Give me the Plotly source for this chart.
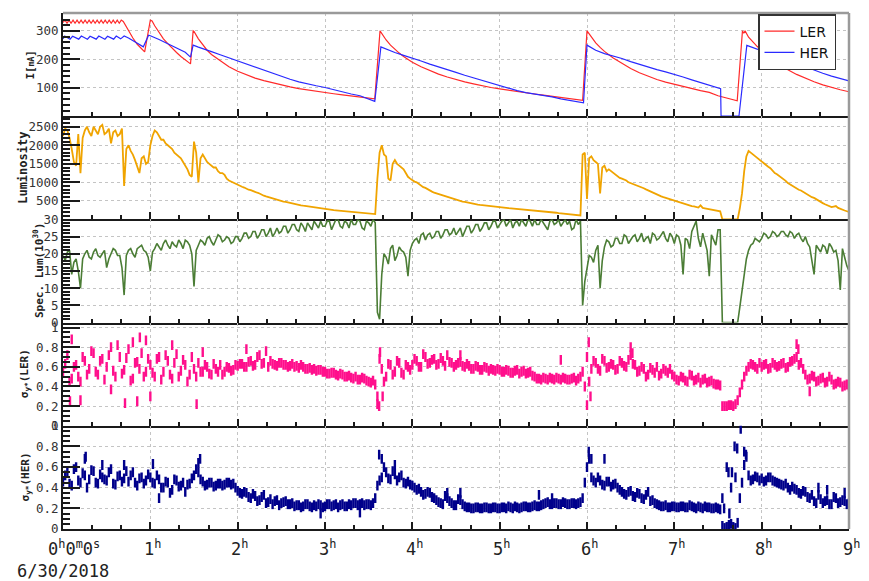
import plotly.graph_objects as go
from plotly.subplots import make_subplots

# ---------------------------------------------------------------- data
# time axis in hours since 00:00 on 6/30/2018; monitors sampled every 1.5 min
# (t_grid and t_half interleave)
t_grid = [round(0.05 * k, 3) for k in range(181)]
t_half = [round(0.05 * k + 0.025, 3) for k in range(180)]

# beam currents [mA]
ler_t = [0.000, 0.023, 0.046, 0.069, 0.092, 0.115, 0.138, 0.161, 0.184, 0.207,
         0.230, 0.253, 0.276, 0.299, 0.322, 0.345, 0.368, 0.391, 0.414, 0.437,
         0.460, 0.483, 0.506, 0.529, 0.552, 0.575, 0.598, 0.621, 0.644, 0.667,
         0.690, 0.75, 0.80, 0.85, 0.90, 0.935, 1.00, 1.02, 1.05, 1.10, 1.15,
         1.20, 1.25, 1.30, 1.35, 1.40, 1.46, 1.49, 1.50, 1.55, 1.60, 1.65, 1.70,
         1.80, 1.90, 2.00, 2.10, 2.20, 2.30, 2.40, 2.50, 2.60, 2.70, 2.80, 2.90,
         3.00, 3.10, 3.20, 3.30, 3.40, 3.50, 3.57, 3.63, 3.66, 3.70, 3.75, 3.80,
         3.85, 3.90, 4.00, 4.10, 4.20, 4.30, 4.40, 4.50, 4.60, 4.70, 4.80, 4.90,
         5.00, 5.10, 5.20, 5.30, 5.40, 5.50, 5.60, 5.70, 5.80, 5.90, 5.95, 6.00,
         6.03, 6.07, 6.10, 6.15, 6.20, 6.30, 6.40, 6.50, 6.60, 6.70, 6.80, 6.90,
         7.00, 7.10, 7.20, 7.30, 7.40, 7.50, 7.72, 7.78, 7.795, 7.81, 7.85, 7.90,
         7.95, 8.00, 8.10, 8.20, 8.30, 8.40, 8.50, 8.60, 8.70, 8.80, 8.90, 9.00]
ler_i = [330, 338, 327, 338, 327, 338, 327, 338, 327, 338,
         327, 338, 327, 338, 327, 338, 327, 338, 327, 338,
         327, 338, 327, 338, 327, 338, 327, 338, 327, 338,
         333, 300, 275, 253, 235, 226, 338, 335, 318, 295, 272,
         255, 238, 224, 210, 197, 184, 300, 298, 272, 250, 232, 217,
         194, 174, 158, 145, 134, 125, 117, 110, 103, 97, 92, 87,
         83, 79, 75, 71, 68, 64, 61, 300, 285, 268, 250, 235,
         222, 210, 190, 174, 160, 148, 138, 129, 121, 114, 107, 101,
         96, 91, 86, 82, 78, 74, 70, 66, 62, 58, 56, 300,
         287, 270, 258, 242, 228, 205, 185, 168, 153, 140, 129, 120,
         112, 104, 97, 90, 84, 72, 54, 300, 292, 300, 278, 260,
         245, 232, 208, 185, 163, 147, 133, 121, 110, 101, 93, 86]

her_t = [0.00, 0.02, 0.08, 0.11, 0.18, 0.21, 0.28, 0.31, 0.38, 0.41, 0.48, 0.51,
         0.58, 0.61, 0.66, 0.70, 0.75, 0.80, 0.85, 0.90, 0.92, 0.98, 1.00, 1.10,
         1.20, 1.30, 1.40, 1.46, 1.49, 1.55, 1.60, 1.70, 1.80, 1.90, 2.00, 2.10,
         2.20, 2.30, 2.40, 2.50, 2.60, 2.70, 2.80, 2.90, 3.00, 3.10, 3.20, 3.30,
         3.40, 3.50, 3.57, 3.64, 3.70, 3.80, 3.90, 4.00, 4.10, 4.20, 4.30, 4.40,
         4.50, 4.60, 4.70, 4.80, 4.90, 5.00, 5.10, 5.20, 5.30, 5.40, 5.50, 5.60,
         5.70, 5.80, 5.90, 5.96, 6.00, 6.05, 6.10, 6.20, 6.30, 6.40, 6.50, 6.60,
         6.70, 6.80, 6.90, 7.00, 7.10, 7.20, 7.30, 7.40, 7.53, 7.535, 7.74, 7.83,
         7.90, 7.95, 8.00, 8.10, 8.20, 8.30, 8.40, 8.50, 8.60, 8.70, 8.80, 8.90,
         9.00]
her_i = [272, 282, 271, 281, 271, 282, 271, 281, 271, 282, 271, 281,
         271, 282, 272, 282, 275, 266, 257, 248, 244, 285, 283, 270,
         255, 240, 225, 208, 250, 243, 237, 227, 216, 205, 195, 185,
         174, 162, 150, 139, 130, 121, 113, 107, 101, 93, 85, 78,
         72, 60, 52, 244, 236, 224, 214, 205, 194, 183, 174, 164,
         154, 144, 135, 125, 115, 106, 98, 90, 83, 78, 74, 68,
         61, 55, 50, 47, 250, 241, 232, 220, 212, 203, 192, 182,
         173, 164, 156, 148, 138, 128, 118, 108, 97, 0, 0, 249,
         241, 234, 228, 218, 207, 196, 185, 174, 162, 151, 141, 132,
         124]

# luminosity: samples on t_grid and on t_half
lum = [2250, 2400, 1900, 1450, 1250, 2400, 2350, 2500, 2300, 2550,
       2350, 2050, 2400, 2300, 900, 2000, 1750, 1400, 1650, 1500,
       2000, 2400, 2250, 2150, 2000, 1900, 1750, 1650, 1450, 1200,
       2100, 1000, 1750, 1550, 1450, 1400, 1250, 1200, 1050, 980,
       930, 880, 820, 790, 740, 700, 640, 600, 560, 530,
       500, 470, 440, 420, 390, 370, 350, 330, 310, 290,
       280, 265, 250, 240, 225, 215, 205, 195, 185, 175,
       160, 150, 1100, 2000, 1700, 1050, 1600, 1450, 1350, 1150,
       1050, 1000, 900, 850, 780, 720, 680, 640, 600, 560,
       520, 490, 470, 440, 420, 400, 385, 370, 355, 345,
       335, 320, 305, 295, 280, 270, 255, 245, 235, 225,
       210, 200, 190, 180, 165, 150, 140, 125, 110, 1750,
       550, 1700, 1550, 700, 1450, 1350, 1250, 1150, 1100, 1050,
       980, 920, 880, 840, 780, 720, 680, 620, 580, 540,
       510, 470, 430, 400, 360, 340, 380, 300, 280, 250,
       230, 0, 0, 0, 0, 300, 1300, 1850, 1750, 1650,
       1550, 1450, 1380, 1250, 1180, 1100, 980, 900, 820, 780,
       700, 620, 580, 500, 440, 380, 330, 360, 280, 240,
       200]
lum_half = [2450, 2200, 1550, 2300, 2200, 2500, 2250, 2400, 2500, 2300,
            2450, 2350, 2250, 2450, 1900, 1850, 1600, 1250, 1700, 1550,
            2250, 2350, 2150, 2050, 1950, 1800, 1700, 1550, 1350, 1150,
            1800, 1650, 1650, 1500, 1400, 1300, 1250, 1100, 1020, 950,
            900, 860, 800, 760, 720, 660, 620, 580, 540, 515,
            480, 455, 430, 400, 380, 360, 340, 320, 300, 285,
            270, 255, 245, 230, 220, 210, 200, 190, 180, 165,
            155, 145, 1800, 1750, 1100, 1500, 1500, 1400, 1250, 1100,
            1020, 950, 870, 810, 750, 700, 660, 620, 580, 540,
            505, 480, 455, 430, 410, 390, 378, 362, 350, 340,
            328, 312, 300, 288, 275, 262, 250, 240, 230, 218,
            205, 195, 185, 172, 158, 145, 132, 118, 105, 1800,
            1650, 1600, 1500, 1400, 1300, 1300, 1200, 1120, 1080, 1000,
            950, 900, 860, 810, 750, 700, 650, 600, 560, 525,
            490, 450, 415, 380, 350, 320, 310, 290, 265, 240,
            220, 0, 0, 0, 0, 700, 1700, 1800, 1700, 1600,
            1500, 1420, 1300, 1220, 1140, 1040, 940, 860, 800, 740,
            660, 600, 540, 470, 410, 350, 345, 310, 260, 220]

# specific luminosity [1e30]
spec_lum = [19.5, 20.5, 14.0, 18.5, 10.0, 20.0, 19.0, 20.5, 19.5, 20.0,
            16.0, 20.0, 21.0, 19.5, 8.0, 21.0, 20.0, 21.5, 22.5, 20.5,
            15.0, 21.5, 22.0, 23.0, 22.5, 23.5, 22.0, 23.0, 24.0, 22.5,
            10.5, 22.5, 23.5, 24.5, 23.5, 24.0, 25.0, 24.0, 24.5, 23.5,
            25.0, 24.5, 26.0, 25.0, 26.5, 25.5, 27.0, 26.0, 25.0, 27.5,
            26.5, 28.0, 27.0, 28.5, 26.5, 28.0, 29.0, 27.0, 28.5, 29.5,
            28.0, 29.5, 28.5, 30.0, 27.5, 29.0, 30.0, 28.5, 29.5, 27.0,
            29.0, 30.0, 3.0, 14.0, 19.0, 21.5, 18.0, 22.0, 20.5, 13.5,
            23.0, 24.5, 25.5, 24.0, 26.0, 25.0, 26.5, 25.5, 27.0, 26.0,
            25.5, 27.5, 26.5, 28.0, 27.0, 28.5, 27.5, 29.0, 28.0, 29.5,
            28.5, 30.0, 29.0, 27.5, 29.5, 30.0, 28.0, 29.5, 30.0, 28.5,
            29.0, 27.0, 30.0, 29.0, 28.0, 30.0, 29.5, 27.5, 28.5, 5.0,
            16.0, 19.0, 21.0, 10.0, 22.0, 23.5, 22.5, 24.5, 23.0, 25.0,
            24.0, 25.5, 24.5, 23.5, 25.0, 26.0, 24.0, 25.5, 24.5, 26.0,
            23.0, 25.0, 14.0, 24.0, 26.5, 29.5, 22.0, 23.5, 13.5, 24.0,
            27.0, 0.0, 0.0, 0.0, 0.0, 4.5, 15.0, 21.0, 23.0, 24.0,
            24.5, 25.5, 25.0, 26.0, 25.5, 26.5, 25.0, 26.0, 25.5, 24.5,
            25.0, 22.0, 14.0, 21.5, 22.5, 20.0, 22.0, 21.0, 9.5, 19.0,
            15.0]
spec_half = [18.0, 21.0, 17.5, 15.0, 18.5, 21.0, 18.5, 21.5, 19.0, 21.0,
             18.5, 21.5, 19.5, 16.0, 19.5, 21.5, 19.0, 22.0, 21.0, 19.0,
             20.5, 23.0, 21.0, 24.0, 21.5, 22.5, 24.0, 21.5, 23.5, 20.0,
             21.0, 24.0, 22.5, 25.0, 22.5, 25.5, 23.5, 25.0, 23.0, 25.0,
             23.5, 26.0, 24.5, 26.5, 24.5, 27.0, 25.0, 27.5, 26.0, 26.0,
             28.0, 26.0, 28.5, 27.0, 29.0, 26.5, 28.0, 29.5, 27.5, 28.0,
             29.5, 27.0, 30.0, 28.0, 29.5, 27.5, 28.5, 30.0, 27.5, 29.5,
             28.0, 29.0, 1.0, 20.0, 17.0, 22.5, 19.5, 21.0, 19.0, 21.0,
             24.0, 23.0, 26.0, 25.5, 24.5, 26.5, 24.5, 27.0, 25.5, 27.5,
             26.5, 25.0, 28.0, 26.0, 28.5, 26.5, 29.0, 27.0, 29.5, 27.5,
             29.5, 28.0, 30.0, 29.0, 28.0, 29.0, 30.0, 28.0, 28.5, 30.0,
             28.0, 29.5, 28.5, 30.0, 29.0, 28.5, 27.0, 30.0, 29.5, 12.0,
             19.5, 17.5, 22.5, 18.0, 24.0, 22.0, 24.5, 23.0, 25.5, 23.0,
             25.0, 23.5, 26.0, 24.5, 23.0, 25.5, 24.5, 26.5, 23.5, 25.0,
             25.5, 22.5, 24.5, 21.5, 28.0, 24.5, 26.0, 21.0, 25.5, 22.5,
             27.0, 0.0, 0.0, 0.0, 0.0, 9.0, 18.5, 22.5, 24.5, 23.5,
             26.0, 24.5, 26.5, 25.0, 26.5, 25.5, 26.5, 24.5, 26.0, 23.5,
             23.0, 18.0, 22.5, 20.5, 22.0, 23.0, 20.5, 18.0, 21.5, 16.5]

# vertical beam size at IP, LER: samples on t_grid (a) and t_half (b)
sig_ler_a = [0.55, 0.72, 0.48, 0.62, 0.45, 0.66, 0.58, 0.74, 0.52, 0.68,
             0.60, 0.80, 0.50, 0.70, 0.57, 0.78, 0.48, 0.65, 0.74, 0.55,
             0.62, 0.50, 0.70, 0.55, 0.66, 0.48, 0.73, 0.56, 0.62, 0.52,
             0.58, 0.64, 0.55, 0.60, 0.52, 0.58, 0.62, 0.55, 0.59, 0.57,
             0.61, 0.63, 0.60, 0.66, 0.62, 0.72, 0.64, 0.60, 0.63, 0.61,
             0.64, 0.62, 0.61, 0.60, 0.59, 0.60, 0.58, 0.57, 0.56, 0.57,
             0.55, 0.53, 0.54, 0.51, 0.52, 0.50, 0.49, 0.50, 0.47, 0.48,
             0.45, 0.46, 0.30, 0.58, 0.50, 0.62, 0.55, 0.64, 0.52, 0.60,
             0.62, 0.66, 0.60, 0.70, 0.64, 0.68, 0.63, 0.66, 0.72, 0.64,
             0.62, 0.65, 0.60, 0.61, 0.58, 0.60, 0.57, 0.59, 0.58, 0.56,
             0.57, 0.55, 0.56, 0.54, 0.57, 0.55, 0.53, 0.55, 0.50, 0.48,
             0.49, 0.47, 0.48, 0.49, 0.47, 0.48, 0.47, 0.49, 0.48, 0.55,
             0.70, 0.58, 0.64, 0.56, 0.66, 0.60, 0.62, 0.58, 0.64, 0.60,
             0.72, 0.62, 0.56, 0.58, 0.52, 0.57, 0.60, 0.53, 0.56, 0.58,
             0.50, 0.46, 0.49, 0.45, 0.51, 0.47, 0.44, 0.48, 0.45, 0.43,
             0.42, 0.20, 0.20, 0.21, 0.22, 0.34, 0.50, 0.60, 0.62, 0.58,
             0.60, 0.63, 0.59, 0.62, 0.61, 0.64, 0.60, 0.66, 0.70, 0.64,
             0.52, 0.48, 0.50, 0.46, 0.49, 0.45, 0.47, 0.43, 0.44, 0.41,
             0.40]
sig_ler_b = [0.63, 0.45, 0.60, 0.50, 0.70, 0.52, 0.76, 0.55, 0.66, 0.47,
             0.72, 0.56, 0.82, 0.53, 0.69, 0.46, 0.64, 0.58, 0.50, 0.68,
             0.54, 0.68, 0.47, 0.72, 0.52, 0.64, 0.50, 0.67, 0.45, 0.70,
             0.50, 0.55, 0.62, 0.53, 0.63, 0.55, 0.52, 0.60, 0.56, 0.62,
             0.63, 0.60, 0.65, 0.61, 0.70, 0.63, 0.76, 0.66, 0.62, 0.64,
             0.62, 0.60, 0.63, 0.61, 0.62, 0.58, 0.59, 0.58, 0.57, 0.55,
             0.53, 0.54, 0.52, 0.53, 0.50, 0.51, 0.48, 0.47, 0.49, 0.46,
             0.44, 0.42, 0.68, 0.45, 0.63, 0.52, 0.66, 0.54, 0.62, 0.57,
             0.68, 0.60, 0.73, 0.63, 0.67, 0.62, 0.69, 0.61, 0.65, 0.60,
             0.64, 0.61, 0.63, 0.58, 0.61, 0.57, 0.60, 0.56, 0.57, 0.58,
             0.55, 0.57, 0.54, 0.56, 0.53, 0.56, 0.54, 0.51, 0.48, 0.47,
             0.48, 0.49, 0.47, 0.48, 0.49, 0.47, 0.48, 0.46, 0.50, 0.40,
             0.45, 0.66, 0.58, 0.68, 0.59, 0.63, 0.57, 0.66, 0.61, 0.67,
             0.63, 0.55, 0.60, 0.50, 0.59, 0.54, 0.51, 0.58, 0.54, 0.52,
             0.47, 0.50, 0.46, 0.52, 0.46, 0.49, 0.47, 0.44, 0.46, 0.42,
             0.41, 0.20, 0.21, 0.20, 0.26, 0.42, 0.56, 0.63, 0.60, 0.64,
             0.62, 0.58, 0.64, 0.60, 0.63, 0.59, 0.65, 0.68, 0.62, 0.58,
             0.47, 0.51, 0.45, 0.48, 0.44, 0.50, 0.42, 0.45, 0.40, 0.42]
ler_out_t = [0.08, 0.10, 0.20, 0.55, 0.71, 0.80, 0.85, 0.88, 0.95, 1.00, 1.25,
             1.53, 1.60, 2.10, 3.60, 3.62, 3.63, 3.66, 4.55, 5.70, 6.00, 6.02,
             6.04, 6.50, 6.52, 8.40, 8.42, 8.55]
ler_out_v = [0.25, 0.88, 0.26, 0.37, 0.23, 0.85, 0.25, 0.90, 0.87, 0.30, 0.82,
             0.22, 0.75, 0.78, 0.22, 0.20, 0.75, 0.30, 0.72, 0.67, 0.21, 0.85,
             0.30, 0.80, 0.74, 0.83, 0.78, 0.35]

# vertical beam size at IP, HER
sig_her_a = [0.46, 0.55, 0.42, 0.60, 0.45, 0.52, 0.48, 0.56, 0.44, 0.50,
             0.47, 0.58, 0.43, 0.52, 0.49, 0.46, 0.55, 0.42, 0.50, 0.47,
             0.50, 0.44, 0.48, 0.40, 0.45, 0.38, 0.47, 0.42, 0.36, 0.44,
             0.52, 0.55, 0.46, 0.43, 0.45, 0.42, 0.44, 0.43, 0.45, 0.44,
             0.37, 0.34, 0.35, 0.30, 0.32, 0.28, 0.33, 0.26, 0.24, 0.28,
             0.25, 0.27, 0.24, 0.22, 0.23, 0.22, 0.24, 0.21, 0.22, 0.23,
             0.22, 0.24, 0.23, 0.21, 0.24, 0.22, 0.23, 0.25, 0.24, 0.23,
             0.24, 0.25, 0.42, 0.50, 0.55, 0.48, 0.53, 0.50, 0.45, 0.46,
             0.42, 0.38, 0.36, 0.34, 0.35, 0.30, 0.26, 0.24, 0.30, 0.25,
             0.23, 0.28, 0.22, 0.21, 0.20, 0.21, 0.20, 0.21, 0.20, 0.21,
             0.20, 0.21, 0.22, 0.20, 0.21, 0.21, 0.22, 0.21, 0.23, 0.22,
             0.24, 0.26, 0.24, 0.25, 0.24, 0.25, 0.24, 0.25, 0.25, 0.30,
             0.60, 0.50, 0.45, 0.47, 0.42, 0.46, 0.43, 0.40, 0.36, 0.33,
             0.37, 0.31, 0.34, 0.29, 0.36, 0.28, 0.24, 0.22, 0.23, 0.21,
             0.22, 0.21, 0.22, 0.21, 0.22, 0.20, 0.21, 0.22, 0.21, 0.20,
             0.20, 0.03, 0.02, 0.05, 0.01, 0.30, 0.62, 0.52, 0.48, 0.50,
             0.49, 0.47, 0.50, 0.46, 0.44, 0.42, 0.40, 0.41, 0.38, 0.34,
             0.36, 0.30, 0.27, 0.33, 0.25, 0.28, 0.24, 0.30, 0.26, 0.27,
             0.25]
sig_her_b = [0.52, 0.44, 0.58, 0.47, 0.54, 0.40, 0.57, 0.45, 0.53, 0.48,
             0.55, 0.44, 0.51, 0.46, 0.56, 0.52, 0.45, 0.49, 0.44, 0.53,
             0.45, 0.52, 0.40, 0.46, 0.35, 0.48, 0.41, 0.45, 0.43, 0.49,
             0.58, 0.48, 0.42, 0.45, 0.41, 0.44, 0.42, 0.45, 0.43, 0.40,
             0.35, 0.36, 0.31, 0.34, 0.27, 0.31, 0.25, 0.29, 0.27, 0.23,
             0.26, 0.24, 0.25, 0.23, 0.21, 0.24, 0.22, 0.23, 0.24, 0.21,
             0.24, 0.22, 0.24, 0.23, 0.22, 0.24, 0.25, 0.23, 0.25, 0.24,
             0.23, 0.30, 0.47, 0.60, 0.49, 0.56, 0.47, 0.52, 0.44, 0.43,
             0.40, 0.39, 0.33, 0.36, 0.31, 0.28, 0.25, 0.32, 0.27, 0.23,
             0.29, 0.24, 0.21, 0.20, 0.21, 0.20, 0.21, 0.20, 0.21, 0.20,
             0.21, 0.20, 0.21, 0.22, 0.20, 0.22, 0.21, 0.22, 0.22, 0.23,
             0.25, 0.24, 0.25, 0.24, 0.26, 0.24, 0.25, 0.24, 0.26, 0.45,
             0.68, 0.47, 0.50, 0.43, 0.46, 0.41, 0.44, 0.38, 0.34, 0.36,
             0.32, 0.35, 0.30, 0.33, 0.27, 0.25, 0.23, 0.22, 0.21, 0.22,
             0.21, 0.22, 0.21, 0.23, 0.21, 0.22, 0.20, 0.21, 0.20, 0.21,
             0.19, 0.01, 0.04, 0.02, 0.06, 0.45, 0.70, 0.47, 0.51, 0.47,
             0.46, 0.50, 0.47, 0.45, 0.43, 0.44, 0.38, 0.39, 0.35, 0.37,
             0.31, 0.33, 0.25, 0.29, 0.27, 0.24, 0.31, 0.25, 0.28, 0.24]
her_out_t = [0.25, 0.26, 0.45, 0.70, 1.03, 1.10, 1.55, 1.57, 2.95, 3.40, 3.62,
             3.65, 3.80, 4.40, 4.55, 5.45, 5.60, 6.02, 6.05, 6.20, 7.55, 7.57,
             7.60, 7.62, 7.63, 7.65, 7.66, 7.69, 7.70, 7.72, 7.76, 7.80, 7.82,
             8.65, 8.75, 8.95]
her_out_v = [0.68, 0.70, 0.62, 0.62, 0.63, 0.30, 0.64, 0.68, 0.15, 0.16, 0.72,
             0.68, 0.62, 0.35, 0.35, 0.33, 0.30, 0.75, 0.68, 0.68, 0.30, 0.20,
             0.60, 0.55, 0.15, 0.40, 0.55, 0.80, 0.50, 0.78, 0.97, 0.75, 0.72,
             0.40, 0.38, 0.35]

hour_ticks = [0, 1, 2, 3, 4, 5, 6, 7, 8, 9]
date_label = "6/30/2018"


def interleave(va, vb):
    """Merge the on-grid and half-step samples into one time-ordered series."""
    xs, ys = [], []
    for k, v in enumerate(va):
        xs.append(t_grid[k])
        ys.append(v)
        if k < len(vb):
            xs.append(t_half[k])
            ys.append(vb[k])
    return xs, ys


lum_x, lum_y = interleave(lum, lum_half)
spec_x, spec_y = interleave(spec_lum, spec_half)

# ---------------------------------------------------------------- figure
MONO = "DejaVu Sans Mono"
AXC = "#1a1a1a"
GRID = "#c4c4c4"

fig = make_subplots(rows=5, cols=1, shared_xaxes=True, vertical_spacing=0)

fig.add_trace(go.Scatter(x=ler_t, y=ler_i, mode="lines", name="LER",
                         line=dict(color="#ff2a2a", width=1.2)), row=1, col=1)
fig.add_trace(go.Scatter(x=her_t, y=her_i, mode="lines", name="HER",
                         line=dict(color="#2a2aff", width=1.2)), row=1, col=1)

fig.add_trace(go.Scatter(x=lum_x, y=lum_y, mode="lines", showlegend=False,
                         line=dict(color="#f0a400", width=1.8)), row=2, col=1)

fig.add_trace(go.Scatter(x=spec_x, y=spec_y, mode="lines", showlegend=False,
                         line=dict(color="#4b7d35", width=1.6)), row=3, col=1)

# beam-size samples: each 1.5-min reading drawn as a short vertical dash
dash = dict(symbol="line-ns", size=7)
pink = "#ff0f8c"
for xs, ys in ((t_grid, sig_ler_a), (t_half, sig_ler_b), (ler_out_t, ler_out_v)):
    fig.add_trace(go.Scatter(x=xs, y=ys, mode="markers", showlegend=False,
                             marker=dict(color=pink, line=dict(color=pink, width=2.4),
                                         **dash)),
                  row=4, col=1)

navy = "#00008b"
for xs, ys in ((t_grid, sig_her_a), (t_half, sig_her_b), (her_out_t, her_out_v)):
    fig.add_trace(go.Scatter(x=xs, y=ys, mode="markers", showlegend=False,
                             marker=dict(color=navy, line=dict(color=navy, width=2.4),
                                         **dash)),
                  row=5, col=1)

fig.update_xaxes(range=[0, 9], tickmode="array", tickvals=hour_ticks,
                 showticklabels=False, ticks="inside", ticklen=7, tickwidth=2,
                 tickcolor=AXC,
                 minor=dict(ticks="inside", ticklen=4, tickwidth=1.5,
                            tickcolor=AXC, tick0=0, dtick=1 / 3),
                 showgrid=True, gridcolor=GRID, griddash="dot", gridwidth=1,
                 showline=True, linecolor=AXC, linewidth=2, zeroline=False)

y_setup = [
    dict(range=[0, 363], tickvals=[100, 200, 300], minor_dtick=20),
    dict(range=[0, 2785], tickvals=[500, 1000, 1500, 2000, 2500], minor_dtick=100),
    dict(range=[0, 30], tickvals=[0, 5, 10, 15, 20, 25, 30], minor_dtick=1),
    dict(range=[0, 1.05], tickvals=[0, 0.2, 0.4, 0.6, 0.8, 1],
         ticktext=["0", "0.2", "0.4", "0.6", "0.8", "1"], minor_dtick=0.05),
    dict(range=[0, 1.0], tickvals=[0, 0.2, 0.4, 0.6, 0.8, 1],
         ticktext=["0", "0.2", "0.4", "0.6", "0.8", "1"], minor_dtick=0.05),
]
for r, cfg in enumerate(y_setup, start=1):
    fig.update_yaxes(range=cfg["range"], tickmode="array", tickvals=cfg["tickvals"],
                     ticktext=cfg.get("ticktext"),
                     ticks="inside", ticklen=17, tickwidth=2, tickcolor=AXC,
                     minor=dict(ticks="inside", ticklen=7, tickwidth=1.5,
                                tickcolor=AXC, tick0=0, dtick=cfg["minor_dtick"]),
                     showgrid=True, gridcolor=GRID, griddash="dot", gridwidth=1,
                     showline=True, linecolor=AXC, linewidth=2, zeroline=False,
                     tickfont=dict(family=MONO, size=12.5, color="#333333"),
                     row=r, col=1)

# frame: grey top and right edges
fig.add_shape(type="line", xref="paper", yref="paper", x0=1, x1=1, y0=0, y1=1,
              line=dict(color="#9a9a9a", width=2.5))
fig.add_shape(type="line", xref="paper", yref="paper", x0=0, x1=1, y0=1, y1=1,
              line=dict(color="#9a9a9a", width=2.5))

# axis titles
L, W = 63, 786
ytitles = [
    ("<b>I[<span style='font-size:8px'>mA</span>]</b>", 31, 0.9, 11),
    ("<b>Luminosity</b>", 23, 0.7, 12),
    ("<b>Spec. Lum(10<sup>30</sup>)</b>", 38, 0.5, 11),
    ("<b>σ<sub>y*</sub>(LER)</b>", 25, 0.3, 11),
    ("<b>σ<sub>y*</sub>(HER)</b>", 26, 0.1, 11),
]
for text, px, yc, fs in ytitles:
    fig.add_annotation(text=text, xref="paper", yref="paper",
                       x=(px - L) / W, y=yc, xanchor="center", yanchor="middle",
                       textangle=-90, showarrow=False,
                       font=dict(family=MONO, size=fs, color="#222222"))

# hour labels along the bottom axis
for h in hour_ticks:
    if h == 0:
        txt = "0<sup>h</sup>0<sup>m</sup>0<sup>s</sup>"
        fig.add_annotation(text=txt, xref="paper", yref="paper",
                           x=(46 - L) / W, y=-0.012, xanchor="left", yanchor="top",
                           showarrow=False,
                           font=dict(family=MONO, size=17, color="#222222"))
    else:
        fig.add_annotation(text=f"{h}<sup>h</sup>", xref="x5", yref="paper",
                           x=h, y=-0.012, xanchor="center", yanchor="top",
                           xshift=2, showarrow=False,
                           font=dict(family=MONO, size=17, color="#222222"))
fig.add_annotation(text=date_label, xref="paper", yref="paper",
                   x=(15 - L) / W, y=-0.058, xanchor="left", yanchor="top",
                   showarrow=False, font=dict(family=MONO, size=17, color="#222222"))

fig.update_layout(
    width=869, height=581,
    margin=dict(l=63, r=20, t=5, b=52),
    paper_bgcolor="white", plot_bgcolor="white",
    showlegend=True,
    legend=dict(x=(758 - L) / W, y=0.998, xanchor="left", yanchor="top",
                bgcolor="white", bordercolor="#333333", borderwidth=1.5,
                font=dict(family="DejaVu Sans", size=14, color="#111111"),
                itemwidth=30, tracegroupgap=0),
)

fig.write_html("out.html", config={"displayModeBar": False})
